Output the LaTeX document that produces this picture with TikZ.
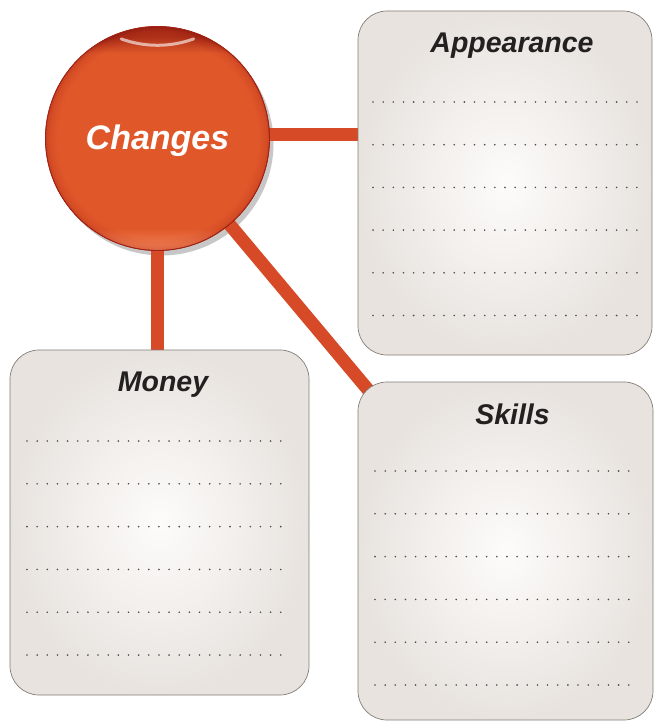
\documentclass[tikz,border=0pt]{standalone}
\usepackage{fontspec}
\newfontfamily\hfont{Liberation Sans}
\usetikzlibrary{backgrounds,calc}
\definecolor{orbA}{RGB}{224,88,42}
\definecolor{orbB}{RGB}{200,62,32}
\definecolor{orbC}{RGB}{160,34,20}
\definecolor{orbD}{RGB}{145,28,16}
\definecolor{orbGlow}{RGB}{246,140,96}
\definecolor{connC}{RGB}{214,74,40}
\definecolor{boxIn}{RGB}{253,252,250}
\definecolor{boxOut}{RGB}{232,227,223}
\definecolor{boxLine}{RGB}{130,124,118}
\definecolor{dotC}{RGB}{80,76,74}
\definecolor{titleC}{RGB}{35,32,32}
% TikZ maps the central 50bp of a shading onto the path's bounding box
\pgfdeclareradialshading{orb}{\pgfpoint{0bp}{0bp}}{color(0bp)=(orbA); color(22.3bp)=(orbA); color(24.2bp)=(orbB); color(25bp)=(orbC); color(50bp)=(orbC)}
\pgfdeclareverticalshading{orbv}{100bp}{color(0bp)=(orbGlow); color(25bp)=(orbGlow); color(26.5bp)=(orbGlow); color(30bp)=(orbA); color(69bp)=(orbA); color(72.5bp)=(orbD); color(75bp)=(orbD); color(100bp)=(orbD)}
\begin{document}
\begin{tikzpicture}[x=1pt,y=-1pt,
  conn/.style={connC, line width=13pt},
  panel/.style={rectangle, rounded corners=29pt, draw=boxLine, line width=0.7pt, inner color=boxIn, outer color=boxOut, inner sep=0pt},
  paneltitle/.style={font=\hfont\bfseries\itshape\fontsize{28.5}{34}\selectfont, text=titleC, inner sep=0pt, anchor=base},
  dotline/.style={dotC, line width=1.8pt, line cap=round, dash pattern=on 0pt off 10.15pt},
  orbnode/.style={circle, minimum size=224pt, inner sep=0pt, shade, shading=orb, draw=orbC, line width=0.8pt},
]
\useasboundingbox (0,0) rectangle (655,722);

% panels
\node[panel, minimum width=294pt, minimum height=344pt] (appear) at (505,183) {};
\node[panel, minimum width=299pt, minimum height=345pt] (money) at (159.5,522.5) {};
\node[panel, minimum width=295pt, minimum height=338pt] (skills) at (505.5,551) {};

\node[paneltitle] (appearT) at ([xshift=7pt,yshift=-42pt]appear.north) {Appearance};
\node[paneltitle] (moneyT) at ([xshift=3.5pt,yshift=-42pt]money.north) {Money};
\node[paneltitle] (skillsT) at ([xshift=7pt,yshift=-43pt]skills.north) {Skills};

% writing lines
\foreach \k in {0,...,5} {
  \draw[dotline] (373,{102+42.7*\k}) -- (638,{102+42.7*\k});
  \draw[dotline] (27,{441+42.8*\k}) -- (290,{441+42.8*\k});
  \draw[dotline] (375,{471+42.8*\k}) -- (638,{471+42.8*\k});
}

% central circle
\node[orbnode] (changes) at (157.5,138.5) {};
\begin{scope}
  \clip (changes.center) circle (111.6pt);
  \shade[shading=orbv, opacity=.6] ($(changes.center)+(-112,-112)$) rectangle ($(changes.center)+(112,112)$);
\end{scope}
\draw[orbC, line width=0.8pt] (changes.center) circle (112pt);
\draw[white, opacity=.6, line width=3pt, line cap=round] ($(changes.center)+(-36.3,-99.6)$) arc[start angle=-110, end angle=-70, radius=106pt];
\node[text=white, font=\hfont\bfseries\itshape\fontsize{34}{40}\selectfont, anchor=base, inner sep=0pt] (changesT) at ([yshift=-11.5pt]changes.center) {Changes};

% shadow and connectors behind everything
\begin{scope}[on background layer]
  \fill[black, opacity=.22] ($(changes.center)+(4,5)$) circle (112pt);
  \draw[conn] ([yshift=3.5pt]changes.center) -- ([yshift=3.5pt]changes.center -| appear.west);
  \draw[conn] (changes.center) -- (changes.center |- money.north);
  \draw[conn] (changes.center) -- ($(skills.north west)+(12,10)$);
\end{scope}
\end{tikzpicture}
\end{document}
